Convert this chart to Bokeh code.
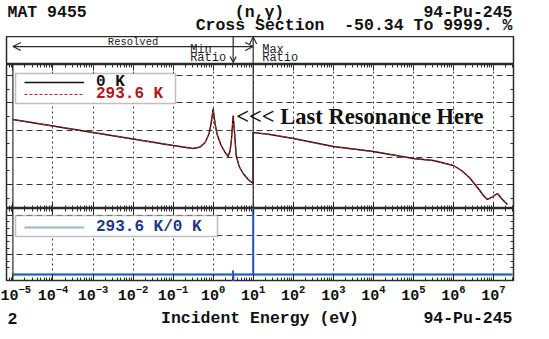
from bokeh.plotting import figure
from bokeh.layouts import column
from bokeh.models import (Range1d, FixedTicker, LogAxis, LinearAxis, Span, Label,
                          Arrow, OpenHead, Legend, LegendItem, BoxAnnotation)
from bokeh.embed import file_html
from bokeh.resources import INLINE

# ---------------- data ----------------
energy_eV = [1e-5, 1e-4, 1e-3, 1e-2, 0.1, 0.316, 0.473, 0.631, 0.794, 0.891, 1.0,
             1.122, 1.259, 1.585, 1.995, 2.371, 2.661, 2.884, 3.162, 3.467, 3.758,
             4.467, 5.623, 7.499, 10.0, 10.0, 26.6, 100.0, 1e3, 1e4, 1e5, 3.16e5,
             1e6, 1.585e6, 2.512e6, 3.981e6, 5.623e6, 7.079e6, 8.913e6, 1.259e7,
             1.585e7, 2.239e7]
xs_0K = [3.385, 3.147, 2.908, 2.670, 2.431, 2.321, 2.376, 2.541, 2.872, 3.239, 3.789,
         3.202, 2.835, 2.431, 2.174, 2.028, 2.248, 2.688, 3.532, 2.798, 2.064,
         1.661, 1.404, 1.183, 1.037, 2.908, 2.835, 2.688, 2.394, 2.211, 1.954, 1.881,
         1.697, 1.514, 1.257, 0.890, 0.596, 0.450, 0.523, 0.670,
         0.486, 0.266]
xs_293K = [3.385, 3.147, 2.908, 2.670, 2.431, 2.321, 2.378, 2.545, 2.880, 3.250, 3.730,
           3.215, 2.840, 2.433, 2.176, 2.032, 2.258, 2.700, 3.470, 2.810, 2.070,
           1.663, 1.405, 1.183, 1.037, 2.908, 2.835, 2.688, 2.394, 2.211, 1.954, 1.881,
           1.697, 1.514, 1.257, 0.890, 0.596, 0.450, 0.523, 0.670,
           0.486, 0.266]

ratio_energy = [1e-5, 0.99, 1.0, 1.01, 3.12, 3.14, 3.162, 3.19, 10.0, 10.0, 10.0, 3e7]
ratio_values = [1.0, 1.0, 0.93, 1.0, 1.0, 1.2, 0.4966, 1.0, 1.0, 100.99, 1.0, 1.0]

decade_ticks = [1e-5, 1e-4, 1e-3, 1e-2, 1e-1, 1e0, 1e1, 1e2, 1e3, 1e4, 1e5, 1e6, 1e7]
grid_decades = decade_ticks[1:]
xs_grid = [1, 2, 3, 4, 5]
ratio_grid = [2, 3, 4]

resolved_range = [1e-5, 10.0]
min_ratio_E = 3.162
max_ratio_E = 10.0

title_left = "MAT 9455"
title_mid = "(n,\u03b3)"
title_right = "94-Pu-245"
subtitle = "Cross Section \u00a0-50.34 To 9999. %"
x_label = "Incident Energy (eV)"
page_no = "2"

# ---------------- styling ----------------
MONO = "Liberation Mono"
DARK = "#2a2a2a"
FRAME_W = 507
LEFT = 6
RIGHT = 22
WIDTH = LEFT + FRAME_W + RIGHT
X_RANGE = Range1d(10 ** -5.16, 10 ** 7.5)
minor = [m * d for d in [1e-6] + decade_ticks for m in range(2, 10)]


def base_fig(height, y_range, bottom=0, outline=True):
    p = figure(width=WIDTH, height=height, x_axis_type="log",
               x_range=X_RANGE, y_range=y_range, output_backend="svg",
               toolbar_location=None, x_axis_location=None, y_axis_location=None,
               min_border=0, min_border_bottom=bottom,
               min_border_right=RIGHT, min_border_left=LEFT)
    p.outline_line_color = DARK if outline else None
    p.outline_line_width = 1.5
    p.background_fill_color = "white"
    p.border_fill_color = "white"
    return p


def tick_axis(kind, place, p, ticks, minors, label=False, tin=6, mtin=3):
    ax = kind(ticker=FixedTicker(ticks=ticks, minor_ticks=minors))
    ax.axis_line_color = None
    ax.major_tick_in = tin
    ax.major_tick_out = 0
    ax.minor_tick_in = mtin
    ax.minor_tick_out = 0
    ax.major_tick_line_color = DARK
    ax.minor_tick_line_color = DARK
    if not label:
        ax.major_label_text_font_size = "1px"
        ax.major_label_text_color = None
        ax.major_label_standoff = 0
    p.add_layout(ax, place)
    return ax


def text_fig(height):
    p = base_fig(height, Range1d(0, 1), outline=False)
    p.xgrid.visible = False
    p.ygrid.visible = False
    tick_axis(LinearAxis, "left", p, [0.5], [], tin=0, mtin=0)
    tick_axis(LinearAxis, "right", p, [0.5], [], tin=0, mtin=0)
    return p


def mono_label(p, txt, x, y, align, size="16.5px"):
    p.add_layout(Label(x=x, y=y, x_units="screen", y_units="screen", text=txt,
                       text_font=MONO, text_font_style="bold",
                       text_font_size=size, text_align=align, text_baseline="middle",
                       text_color="#111"))


def style_grids(p, yticks):
    p.xgrid.ticker = FixedTicker(ticks=grid_decades)
    p.xgrid.grid_line_color = "#3a3a3a"
    p.xgrid.grid_line_dash = "2 3"
    p.xgrid.grid_line_width = 1
    p.ygrid.ticker = FixedTicker(ticks=yticks)
    p.ygrid.grid_line_color = "#3a3a3a"
    p.ygrid.grid_line_dash = "6 4"
    p.ygrid.grid_line_width = 1


# ---------------- header ----------------
header = text_fig(36)
mono_label(header, title_left, 1, 24, "left")
mono_label(header, title_mid, 253, 24, "center")
mono_label(header, title_right, 506, 24, "right")
mono_label(header, subtitle, 506, 11, "right")

# ---------------- band ----------------
band = text_fig(28)
band.outline_line_color = DARK

band.add_layout(Arrow(x_start=resolved_range[0], y_start=0.64, x_end=resolved_range[1], y_end=0.64,
                      start=OpenHead(size=8, line_color=DARK, line_width=1.2),
                      end=OpenHead(size=8, line_color=DARK, line_width=1.2),
                      line_color=DARK, line_width=1.2))
band.add_layout(Label(x=(resolved_range[0] * resolved_range[1]) ** 0.5, y=0.79, text="Resolved",
                      text_font=MONO, text_font_size="10.5px", text_align="center",
                      text_baseline="middle", text_color="#222"))
band.add_layout(Arrow(x_start=min_ratio_E, y_start=1.0, x_end=min_ratio_E, y_end=0.07,
                      end=OpenHead(size=6, line_color=DARK, line_width=1.2),
                      line_color=DARK, line_width=1.2))
band.add_layout(Arrow(x_start=max_ratio_E, y_start=0.0, x_end=max_ratio_E, y_end=0.98,
                      end=OpenHead(size=7, line_color=DARK, line_width=1.2),
                      line_color=DARK, line_width=1.2))
for txt, yy in [("Min", 0.53), ("Ratio", 0.24)]:
    band.add_layout(Label(x=min_ratio_E, y=yy, x_offset=-43, text=txt, text_font=MONO,
                          text_font_size="12px", text_align="left",
                          text_baseline="middle", text_color="#222"))
for txt, yy in [("Max", 0.53), ("Ratio", 0.24)]:
    band.add_layout(Label(x=max_ratio_E, y=yy, x_offset=9, text=txt, text_font=MONO,
                          text_font_size="12px", text_align="left",
                          text_baseline="middle", text_color="#222"))

# ---------------- cross section panel ----------------
top = base_fig(144, Range1d(0.119, 5.404))
style_grids(top, xs_grid)
tick_axis(LogAxis, "above", top, decade_ticks, minor)
tick_axis(LogAxis, "below", top, decade_ticks, minor)
tick_axis(LinearAxis, "left", top, xs_grid, [0.5, 1.5, 2.5, 3.5, 4.5])
tick_axis(LinearAxis, "right", top, xs_grid, [0.5, 1.5, 2.5, 3.5, 4.5])
top.add_layout(Span(location=decade_ticks[0], dimension="height", line_color=DARK, line_width=1.2))
top.add_layout(Span(location=max_ratio_E, dimension="height", line_color=DARK, line_width=1.2))

r0 = top.line(energy_eV, xs_0K, line_color="#111111", line_width=1.4)
r1 = top.line(energy_eV, xs_293K, line_color="#c81e1e", line_width=1.2, line_dash="3 2")

top.add_layout(BoxAnnotation(left=9, right=169, bottom=105, top=135,
                             left_units="screen", right_units="screen",
                             bottom_units="screen", top_units="screen",
                             fill_color="white", fill_alpha=1.0,
                             line_color=DARK, line_width=1.5))
for rend, lab, col, yb in [(r0, "0 K", "#111111", 117), (r1, "293.6 K", "#b01818", 105)]:
    lg = Legend(items=[LegendItem(label=lab, renderers=[rend])], location=(18, yb),
                padding=1, margin=0, spacing=0, glyph_width=60, glyph_height=12,
                label_height=12, label_standoff=12, border_line_color=None,
                background_fill_alpha=0, label_text_font=MONO,
                label_text_font_style="bold", label_text_font_size="16px",
                label_text_color=col)
    top.add_layout(lg)

top.add_layout(Label(x=3.76, y=3.50, text="<<< Last Resonance Here",
                     text_font="Liberation Serif", text_font_style="bold",
                     text_font_size="22.5px", text_baseline="middle", text_color="#111"))

# ---------------- ratio panel ----------------
bot = base_fig(72 + 27, Range1d(0.695, 4.35), bottom=27)
style_grids(bot, ratio_grid)
tick_axis(LogAxis, "above", bot, decade_ticks, minor)
xa = tick_axis(LogAxis, "below", bot, decade_ticks, minor, label=True)
xa.major_label_text_font = MONO
xa.major_label_text_font_style = "bold"
xa.major_label_text_font_size = "15px"
xa.major_label_text_color = "#111"
xa.major_label_standoff = 4
thirds = [1.333, 1.667, 2.333, 2.667, 3.333, 3.667, 4.333]
tick_axis(LinearAxis, "left", bot, ratio_grid, thirds)
tick_axis(LinearAxis, "right", bot, ratio_grid, thirds)
bot.add_layout(Span(location=decade_ticks[0], dimension="height", line_color=DARK, line_width=1.2))

rt = bot.line(ratio_energy, ratio_values, line_color="#8fbcbe", line_width=2)
bot.line(ratio_energy, ratio_values, line_color="#2a5cc4", line_width=2)

bot.add_layout(BoxAnnotation(left=9, right=211, bottom=44, top=65,
                             left_units="screen", right_units="screen",
                             bottom_units="screen", top_units="screen",
                             fill_color="white", fill_alpha=1.0,
                             line_color=DARK, line_width=1.5))
bot.add_layout(Legend(items=[LegendItem(label="293.6 K/0 K", renderers=[rt])],
                      location=(18, 44), padding=1, margin=0, spacing=0,
                      glyph_width=60, glyph_height=12, label_height=12,
                      label_standoff=12, border_line_color=None, background_fill_alpha=0,
                      label_text_font=MONO, label_text_font_style="bold",
                      label_text_font_size="16px", label_text_color="#1c3a8c"))

# ---------------- footer ----------------
footer = text_fig(24)
mono_label(footer, page_no, 1, 13, "left")
mono_label(footer, x_label, FRAME_W / 2, 13, "center")
mono_label(footer, title_right, 506, 13, "right")

layout = column(header, band, top, bot, footer, spacing=0)
open("out.html", "w").write(file_html(layout, INLINE))
